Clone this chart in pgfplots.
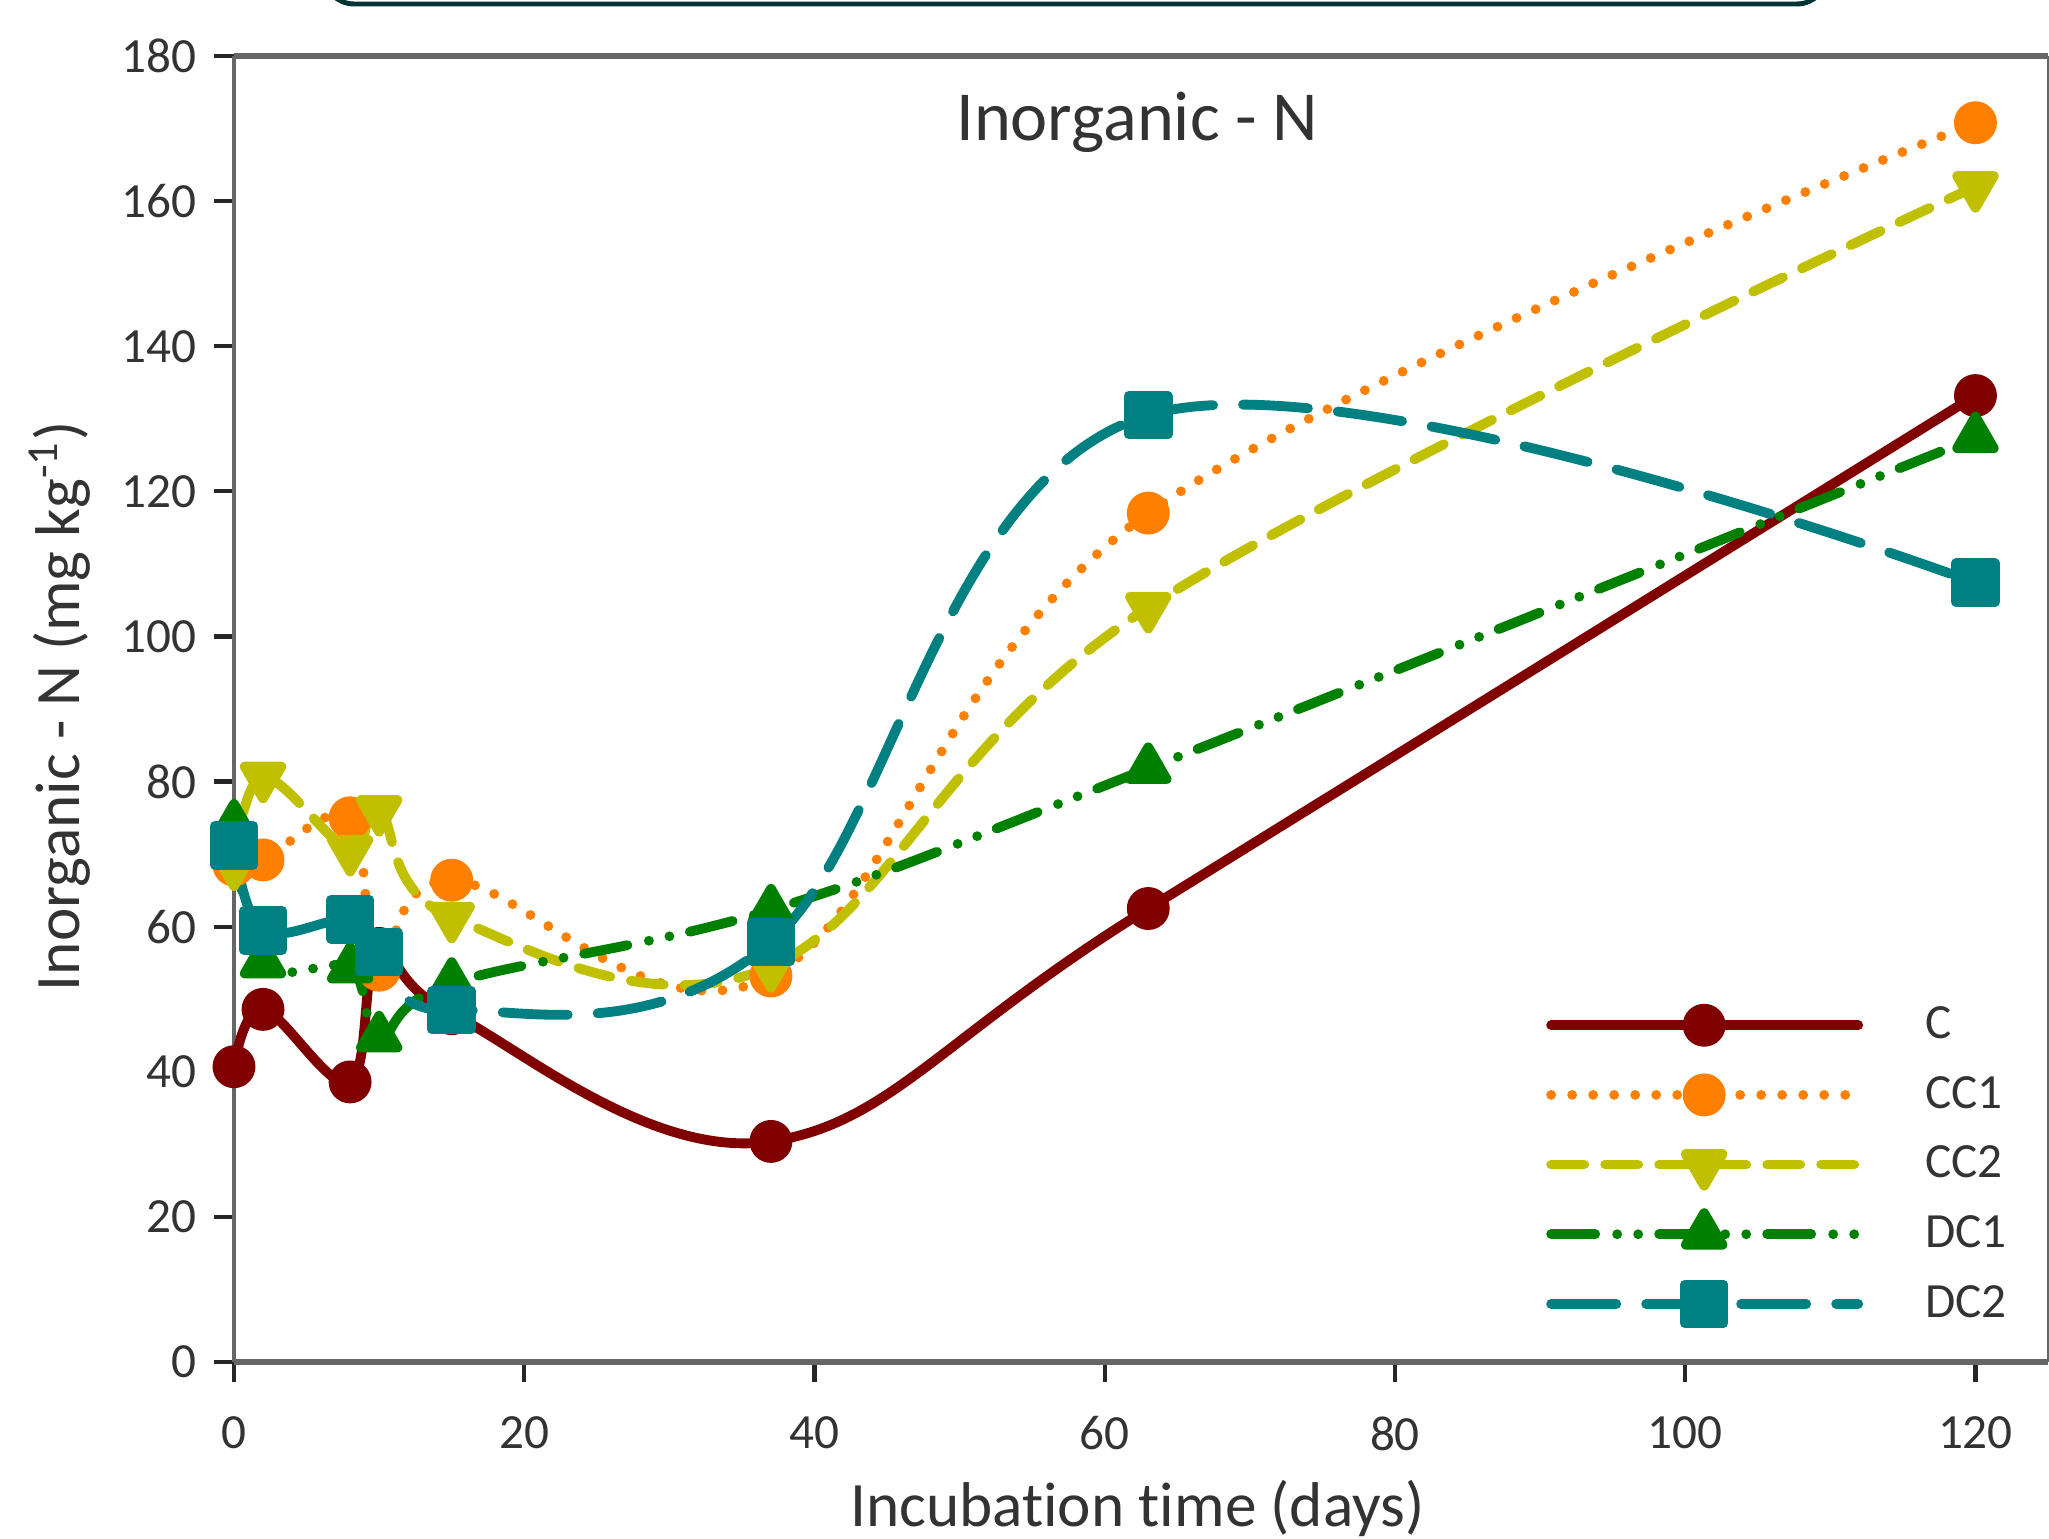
\documentclass[border=0pt]{standalone}
\usepackage{fontspec}
\setmainfont{Carlito}[Ligatures=NoCommon]
\usepackage{pgfplots}
\pgfplotsset{compat=1.18}

\definecolor{cC}{HTML}{800000}
\definecolor{cCC1}{HTML}{FF8000}
\definecolor{cCC2}{HTML}{C0C000}
\definecolor{cDC1}{HTML}{008000}
\definecolor{cDC2}{HTML}{008080}
\definecolor{axgray}{HTML}{666666}
\definecolor{txt}{HTML}{333333}

\begin{document}
\begin{tikzpicture}
\path[use as bounding box] (0,0) rectangle (20.49,15.39);
% cut-off frame at the top of the original image
\draw[line width=1.4pt, color=black!60!cDC2, rounded corners=0.3cm] (3.24,16.0) -- (3.24,15.35) -- (18.27,15.35) -- (18.27,16.0);
\begin{axis}[
  at={(2.34cm,1.77cm)}, anchor=south west,
  scale only axis, width=18.14cm, height=13.06cm,
  xmin=0, xmax=125, ymin=0, ymax=180,
  xtick={0,20,...,120}, ytick={0,20,...,180},
  tick align=outside, xtick pos=left, ytick pos=left,
  major tick length=0.2cm,
  tick style={black!85, line width=1.2pt},
  axis line style={draw=none},
  clip=false,
  ticklabel style={font=\fontsize{14}{16}\selectfont, text=txt},
  xticklabel style={yshift=-0.22cm},
  yticklabel style={xshift=-0.05cm},
  /pgf/number format/assume math mode=true,
  xlabel={Incubation time (days)},
  ylabel={Inorganic - N (mg kg\textsuperscript{-1})},
  label style={font=\fontsize{18}{20}\selectfont, text=txt},
  xlabel style={at={(axis description cs:0.498,-0.112)}, anchor=center},
  ylabel style={at={(axis description cs:-0.096,0.502)}, anchor=center},
  title={Inorganic - N},
  title style={at={(axis description cs:0.498,0.933)}, anchor=center, font=\fontsize{20}{22}\selectfont, text=txt},
  legend style={at={(rel axis cs:0.723,0.278)}, anchor=north west, draw=none, fill=none,
    inner sep=0pt, row sep=0.184cm, column sep=0.55cm,
    font=\fontsize{14}{16}\selectfont, text=txt},
  legend cell align=left,
  legend image code/.code={\draw[mark repeat=2,mark phase=2] plot coordinates {(0cm,0cm) (1.53cm,0cm) (3.07cm,0cm)};},
  every axis plot/.append style={line width=2.8pt, line cap=round, line join=round},
]
% frame
\draw[axgray, line width=1.8pt] (rel axis cs:0,0) -- (rel axis cs:1,0);
\draw[axgray, line width=1.6pt] (rel axis cs:0,1) -- (rel axis cs:1,1);
\draw[axgray, line width=1.4pt] (rel axis cs:0,0) -- (rel axis cs:0,1);
\draw[axgray, line width=0.8pt] (rel axis cs:1,0) -- (rel axis cs:1,1);

\addplot[cC, smooth, tension=0.62, mark=*, mark size=4.7pt, mark options={solid, fill=cC}]
  coordinates {(0,40.7) (2,48.6) (8,38.6) (10,57) (15,48) (37,30.4) (63,62.5) (120,133.2)};
\addlegendentry{C}

\addplot[cCC1, smooth, tension=0.62, dash pattern=on 0pt off 0.21cm, mark=*, mark size=4.7pt, mark options={solid, fill=cCC1}]
  coordinates {(0,68.5) (2,69.2) (8,75) (10,54) (15,66.4) (37,53.2) (63,117) (120,170.8)};
\addlegendentry{CC1}

\addplot[cCC2, smooth, tension=0.62, dash pattern=on 0.33cm off 0.21cm, mark=triangle*, mark size=6pt, mark options={solid, fill=cCC2, rotate=180}]
  coordinates {(0,68.5) (2,80.6) (8,70.5) (10,76) (15,61.3) (37,54.5) (63,104) (120,162)};
\addlegendentry{CC2}

\addplot[cDC1, smooth, tension=0.62, dash pattern=on 0.44cm off 0.22cm on 0pt off 0.21cm on 0pt off 0.21cm, mark=triangle*, mark size=6pt, mark options={solid, fill=cDC1}]
  coordinates {(0,74) (2,55) (8,54.3) (10,44.8) (15,52.2) (37,62.3) (63,81.8) (120,127.4)};
\addlegendentry{DC1}

\addplot[cDC2, smooth, tension=0.62, dash pattern=on 0.65cm off 0.3cm, mark=square*, mark size=5.5pt, mark options={solid, fill=cDC2}]
  coordinates {(0,71.2) (2,59.5) (8,61) (10,56.5) (15,48.5) (37,57.9) (63,130.5) (120,107.4)};
\addlegendentry{DC2}
\end{axis}
\end{tikzpicture}
\end{document}
